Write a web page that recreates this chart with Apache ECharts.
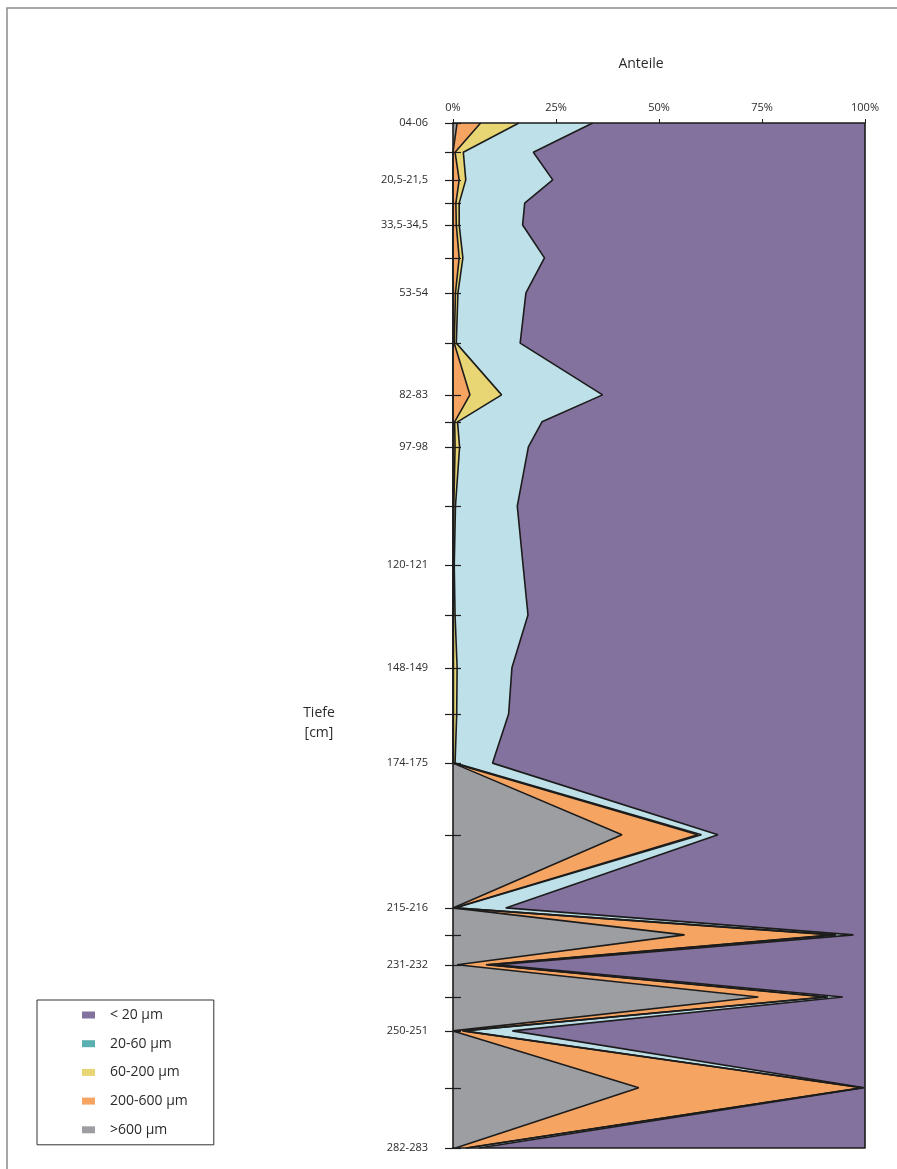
<!DOCTYPE html>
<html>
<head>
<meta charset="utf-8">
<script src="https://cdn.jsdelivr.net/npm/echarts@6/dist/echarts.min.js"></script>
<style>
  html, body { margin: 0; padding: 0; background: #fff; }
  #chart { width: 897px; height: 1169px; }
</style>
</head>
<body>
<div id="chart"></div>
<script>
// Sample positions along the core (plotted depth, cm)
const depths = [5.0, 12.9, 20.4, 26.7, 32.6, 41.5, 51.0, 64.6, 78.6, 85.9, 92.7, 108.7, 124.7,
                138.2, 152.5, 165.0, 178.3, 197.7, 217.5, 224.8, 232.9, 241.6, 250.8, 266.2, 282.5];

// Depth labels shown on the axis (every second sample)
const labelDepths = [5.0, 20.4, 32.6, 51.0, 78.6, 92.7, 124.7, 152.5, 178.3, 217.5, 232.9, 250.8, 282.5];
const labelTexts = ['04-06', '20,5-21,5', '33,5-34,5', '53-54', '82-83', '97-98', '120-121',
                    '148-149', '174-175', '215-216', '231-232', '250-251', '282-283'];

// Grain size fractions, percent of sample
const gt600 = [1.0, 0, 0, 0, 0, 0, 0, 0, 0, 0, 0, 0, 0, 0, 0, 0, 0, 41.0, 0, 56.2, 1.0, 74.1, 0, 45.1, 0.6];
const f200_600 = [5.7, 0.5, 1.5, 0.7, 0.8, 1.5, 0.6, 0.3, 4.1, 0.4, 0.5, 0.2, 0.1, 0.1, 0.1, 0.1, 0.1, 18.4, 0.3, 36.1, 7.0, 16.2, 2.3, 54.1, 2.5];
const f60_200 = [9.3, 2.0, 1.6, 0.8, 0.7, 0.9, 0.6, 0.5, 7.7, 0.7, 1.1, 0.4, 0.2, 0.4, 0.9, 0.8, 0.4, 0.9, 0.2, 0.7, 0.5, 0.7, 0.3, 0.2, 0.3];
const f20_60 = [17.9, 17.0, 21.1, 15.9, 15.4, 19.8, 16.5, 15.5, 24.5, 20.5, 16.7, 15.0, 16.7, 17.7, 13.3, 12.6, 9.1, 4.0, 12.3, 4.2, 2.3, 3.6, 11.8, 0.4, 2.9];
const lt20 = [66.1, 80.5, 75.8, 82.6, 83.1, 77.8, 82.3, 83.7, 63.7, 78.4, 81.7, 84.4, 83.0, 81.8, 85.7, 86.5, 90.4, 35.7, 87.2, 2.8, 89.2, 5.4, 85.6, 0.2, 93.7];

const FONT = 'Open Sans';
const TEXT = '#2b2b2b';
const INK = '#1c1c1c';

// name, values, area colour, legend colour
const fractions = [
  { name: '>600 µm',    values: gt600,    fill: '#9d9ea2', key: '#9d9ea2' },
  { name: '200-600 µm', values: f200_600, fill: '#f6a462', key: '#f6a462' },
  { name: '60-200 µm',  values: f60_200,  fill: '#e8d574', key: '#e8d574' },
  { name: '20-60 µm',   values: f20_60,   fill: '#bee0e8', key: '#5aafb0' },
  { name: '< 20 µm',    values: lt20,     fill: '#83719e', key: '#83719e' }
];

// Depth runs on a time-type axis so that it becomes the base axis and
// the fractions stack horizontally along the percentage axis.
const series = fractions.map(f => ({
  name: f.name,
  type: 'line',
  stack: 'grain',
  xAxisIndex: 0,
  yAxisIndex: 0,
  color: f.fill,
  symbol: 'none',
  lineStyle: { color: INK, width: 1.6 },
  areaStyle: { color: f.fill, opacity: 1 },
  data: f.values.map((v, i) => [v, depths[i]])
}));

const legendOrder = fractions.slice().reverse();

const chart = echarts.init(document.getElementById('chart'), null, { renderer: 'canvas' });

const dMin = depths[0];
const dMax = depths[depths.length - 1];

chart.setOption({
  animation: false,
  backgroundColor: '#ffffff',
  grid: { left: 453, right: 32, top: 123, bottom: 21, containLabel: false },
  xAxis: [
    {
      type: 'value',
      position: 'top',
      min: 0,
      max: 100,
      interval: 25,
      z: 10,
      axisLine: { show: true, lineStyle: { color: INK, width: 1.6 } },
      axisTick: { show: true, length: 4, lineStyle: { color: INK } },
      axisLabel: { formatter: '{value}%', fontFamily: FONT, fontSize: 11, color: TEXT, margin: 10 },
      splitLine: { show: false }
    },
    {
      type: 'value',
      position: 'bottom',
      min: 0,
      max: 100,
      z: 10,
      axisLine: { show: true, lineStyle: { color: INK, width: 1.6 } },
      axisTick: { show: false },
      axisLabel: { show: false },
      splitLine: { show: false }
    }
  ],
  yAxis: [
    {
      type: 'time',
      inverse: true,
      min: dMin,
      max: dMax,
      position: 'left',
      axisLine: { show: false },
      axisTick: { show: false },
      axisLabel: { show: false },
      splitLine: { show: false }
    },
    {
      type: 'value',
      inverse: true,
      min: dMin,
      max: dMax,
      position: 'left',
      z: 10,
      axisLine: { show: true, lineStyle: { color: INK, width: 1.6 } },
      axisTick: { show: true, length: 8, lineStyle: { color: INK, width: 1.2 }, customValues: depths },
      axisLabel: {
        customValues: labelDepths,
        formatter: v => {
          const i = labelDepths.findIndex(d => Math.abs(d - v) < 0.01);
          return i >= 0 ? labelTexts[i] : '';
        },
        fontFamily: FONT, fontSize: 11, color: TEXT, margin: 25
      },
      splitLine: { show: false }
    },
    {
      type: 'value',
      inverse: true,
      min: dMin,
      max: dMax,
      position: 'left',
      z: 10,
      axisLine: { show: false },
      axisTick: { show: true, inside: true, length: 8, lineStyle: { color: INK, width: 1.2 }, customValues: depths },
      axisLabel: { show: false },
      splitLine: { show: false }
    }
  ],
  legend: {
    orient: 'vertical',
    left: 37,
    top: 1000,
    icon: 'rect',
    itemWidth: 13,
    itemHeight: 7,
    itemGap: 12.7,
    padding: [7, 26, 7, 45],
    borderColor: '#333',
    borderWidth: 1,
    selectedMode: false,
    itemStyle: { borderWidth: 0 },
    textStyle: { fontFamily: FONT, fontSize: 14, color: TEXT, lineHeight: 16, padding: [0, 0, 0, 10] },
    data: legendOrder.map(f => ({ name: f.name, itemStyle: { color: f.key, borderWidth: 0 } }))
  },
  graphic: [
    {
      type: 'rect',
      silent: true,
      shape: { x: 7, y: 8, width: 1000, height: 1300 },
      style: { fill: 'none', stroke: '#8a8a8a', lineWidth: 1.5 }
    },
    {
      type: 'text',
      x: 641, y: 57,
      style: { text: 'Anteile', fontFamily: FONT, fontSize: 14, fill: TEXT, align: 'center' }
    },
    {
      type: 'text',
      x: 319, y: 703,
      style: { text: 'Tiefe\n[cm]', fontFamily: FONT, fontSize: 14, fill: TEXT, align: 'center', lineHeight: 20 }
    }
  ],
  series: series
});
</script>
</body>
</html>
